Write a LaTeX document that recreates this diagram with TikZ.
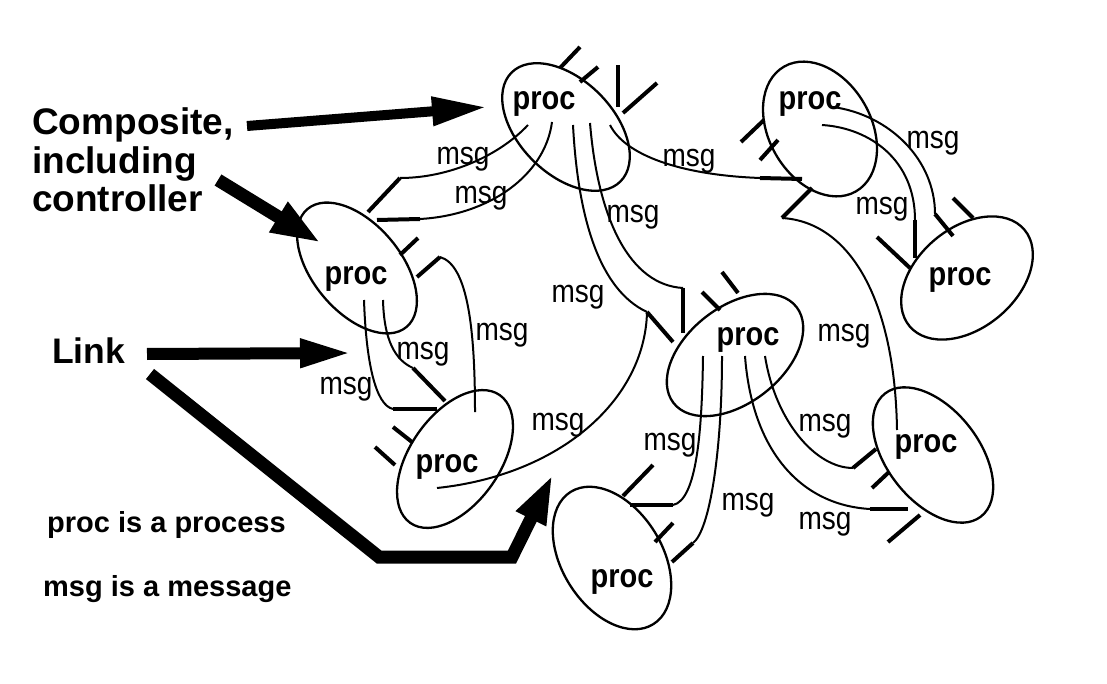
\documentclass[tikz,border=0pt]{standalone}
\usepackage{graphicx}
\usepackage{fontspec}
\setmainfont{Liberation Sans}
\usetikzlibrary{shapes.geometric,arrows.meta}
\newcommand\vs[1]{\scalebox{1}[1.15]{#1}}
\begin{document}
\begin{tikzpicture}[x=1pt,y=-1pt,
  proc/.style={draw, line width=2.3pt, ellipse, inner sep=0pt},
  ptext/.style={font=\fontsize{29}{30}\selectfont\bfseries, anchor=base, inner sep=0pt},
  mtext/.style={font=\fontsize{28}{30}\selectfont, anchor=base, inner sep=0pt},
  ltext/.style={font=\fontsize{37}{39}\selectfont\bfseries, anchor=base west, inner sep=0pt},
  ntext/.style={font=\fontsize{29}{31}\selectfont\bfseries, anchor=base west, inner sep=0pt},
  link/.style={line width=2pt},
  port/.style={line width=4pt},
]
\useasboundingbox (0,0) rectangle (1107,684);
\fill[white] (0,0) rectangle (1107,684);

% processes
\node[proc, minimum width=154pt, minimum height=94pt, rotate=-45] (e1) at (566,127) {};
\node[proc, minimum width=144pt, minimum height=102pt, rotate=-60] (e2) at (820,129) {};
\node[proc, minimum width=150pt, minimum height=100pt, rotate=40] (e3) at (967,278) {};
\node[proc, minimum width=154pt, minimum height=88pt, rotate=-50] (e4) at (357,268) {};
\node[proc, minimum width=156pt, minimum height=90pt, rotate=55] (e5) at (455,459) {};
\node[proc, minimum width=156pt, minimum height=100pt, rotate=-58] (e6) at (612,558) {};
\node[proc, minimum width=156pt, minimum height=96pt, rotate=38] (e7) at (735,355) {};
\node[proc, minimum width=156pt, minimum height=92pt, rotate=-52] (e8) at (933,455) {};

\node[ptext] (p1) at (544,110) {\vs{proc}};
\node[ptext] (p2) at (810,110) {\vs{proc}};
\node[ptext] (p3) at (960,286) {\vs{proc}};
\node[ptext] (p4) at (356,284) {\vs{proc}};
\node[ptext] (p5) at (447,472) {\vs{proc}};
\node[ptext] (p6) at (622,587) {\vs{proc}};
\node[ptext] (p7) at (748,345) {\vs{proc}};
\node[ptext] (p8) at (926,452) {\vs{proc}};

% message labels
\node[mtext] (m1) at (463,165) {\vs{msg}};
\node[mtext] (m2) at (481,204) {\vs{msg}};
\node[mtext] (m3) at (633,223) {\vs{msg}};
\node[mtext] (m4) at (689,167) {\vs{msg}};
\node[mtext] (m5) at (933,149) {\vs{msg}};
\node[mtext] (m6) at (882,215) {\vs{msg}};
\node[mtext] (m7) at (578,302) {\vs{msg}};
\node[mtext] (m8) at (502,340) {\vs{msg}};
\node[mtext] (m9) at (423,359) {\vs{msg}};
\node[mtext] (m10) at (346,394) {\vs{msg}};
\node[mtext] (m11) at (558,430) {\vs{msg}};
\node[mtext] (m12) at (844,341) {\vs{msg}};
\node[mtext] (m13) at (670,450) {\vs{msg}};
\node[mtext] (m14) at (825,431) {\vs{msg}};
\node[mtext] (m15) at (748,510) {\vs{msg}};
\node[mtext] (m16) at (825,529) {\vs{msg}};

% connectors (curve to a port)
\draw[link] (528,125) coordinate (c1s) .. controls (500,155) and (450,178) .. (400,178) coordinate (c1t);
\draw[port] (c1t) -- (368,212) coordinate (c1b);
\draw[link] (552,122) coordinate (c2s) .. controls (545,175) and (490,215) .. (420,219) coordinate (c2t);
\draw[port] (c2t) -- (377,220) coordinate (c2b);
\draw[link] (573,125) coordinate (c3s) .. controls (578,220) and (600,290) .. (647,312) coordinate (c3t);
\draw[port] (c3t) -- (673,342) coordinate (c3b);
\draw[link] (590,123) coordinate (c4s) .. controls (598,220) and (630,285) .. (683,288) coordinate (c4t);
\draw[port] (c4t) -- (683,333) coordinate (c4b);
\draw[link] (610,125) coordinate (c5s) .. controls (625,155) and (680,175) .. (760,178) coordinate (c5t);
\draw[port] (c5t) -- (802,179) coordinate (c5b);
\draw[link] (822,125) coordinate (c6s) .. controls (870,128) and (915,160) .. (915,220) coordinate (c6t);
\draw[port] (c6t) -- (915,258) coordinate (c6b);
\draw[link] (833,107) coordinate (c7s) .. controls (890,115) and (935,160) .. (935,214) coordinate (c7t);
\draw[port] (c7t) -- (953,236) coordinate (c7b);
\draw[link] (897,430) coordinate (c8s) .. controls (895,300) and (850,222) .. (782,218) coordinate (c8t);
\draw[port] (c8t) -- (812,188) coordinate (c8b);
\draw[link] (364,300) coordinate (c9s) .. controls (366,360) and (375,405) .. (393,409) coordinate (c9t);
\draw[port] (c9t) -- (437,409) coordinate (c9b);
\draw[link] (383,300) coordinate (c10s) .. controls (384,340) and (395,360) .. (413,368) coordinate (c10t);
\draw[port] (c10t) -- (445,401) coordinate (c10b);
\draw[link] (475,412) coordinate (c11s) .. controls (475,330) and (468,265) .. (440,257) coordinate (c11t);
\draw[port] (c11t) -- (417,277) coordinate (c11b);
\draw[link] (437,488) coordinate (c12s) .. controls (560,475) and (645,400) .. (c3t);
\draw[link] (703,356) coordinate (c13s) .. controls (702,430) and (697,500) .. (673,505) coordinate (c13t);
\draw[port] (c13t) -- (630,505) coordinate (c13b);
\draw[link] (722,356) coordinate (c14s) .. controls (722,450) and (710,530) .. (693,543) coordinate (c14t);
\draw[port] (c14t) -- (672,562) coordinate (c14b);
\draw[link] (745,356) coordinate (c15s) .. controls (752,450) and (800,505) .. (870,509) coordinate (c15t);
\draw[port] (c15t) -- (908,509) coordinate (c15b);
\draw[link] (765,356) coordinate (c16s) .. controls (775,420) and (815,468) .. (853,468) coordinate (c16t);
\draw[port] (c16t) -- (876,449) coordinate (c16b);

% free ports
\draw[port] (560,68) -- (580,47);
\draw[port] (580,82) -- (598,67);
\draw[port] (618,107) -- (618,65);
\draw[port] (623,113) -- (657,83);
\draw[port] (764,120) -- (741,142);
\draw[port] (778,140) -- (760,160);
\draw[port] (910,268) -- (877,237);
\draw[port] (973,218) -- (953,198);
\draw[port] (400,255) -- (418,238);
\draw[port] (412,442) -- (393,427);
\draw[port] (395,465) -- (375,447);
\draw[port] (623,496) -- (653,465);
\draw[port] (655,542) -- (673,523);
\draw[port] (720,310) -- (702,292);
\draw[port] (738,293) -- (722,272);
\draw[port] (872,488) -- (889,472);
\draw[port] (920,515) -- (888,542);

% annotations
\node[ltext] (t1) at (32,135) {Composite,};
\node[ltext] (t2) at (32,174) {including};
\node[ltext] (t3) at (32,212) {controller};
\node[ltext, font=\fontsize{35.5}{37}\selectfont\bfseries] (t4) at (52,363) {Link};
\node[ntext] (t5) at (47,532) {proc is a process};
\node[ntext] (t6) at (43,596) {msg is a message};

\coordinate (a1s) at (247,126);
\coordinate (a1t) at (487,107);
\coordinate (a2s) at (218,180);
\coordinate (a2t) at (321,243);
\coordinate (a3s) at (147,354);
\coordinate (a3t) at (353,353);
\coordinate (a4s) at (150,374);
\coordinate (a4t) at (553,474);
\draw[line width=10pt, -{Triangle[length=55pt,width=27pt]}] (a1s) -- (a1t);
\draw[line width=13pt, -{Triangle[length=50pt,width=32pt]}] (a2s) -- (a2t);
\draw[line width=12pt, -{Triangle[length=53pt,width=26pt]}] (a3s) -- (a3t);
\draw[line width=13pt, line join=miter, -{Triangle[length=50pt,width=30pt]}] (a4s) -- (379,557) -- (512,557) -- (a4t);
\end{tikzpicture}
\end{document}
